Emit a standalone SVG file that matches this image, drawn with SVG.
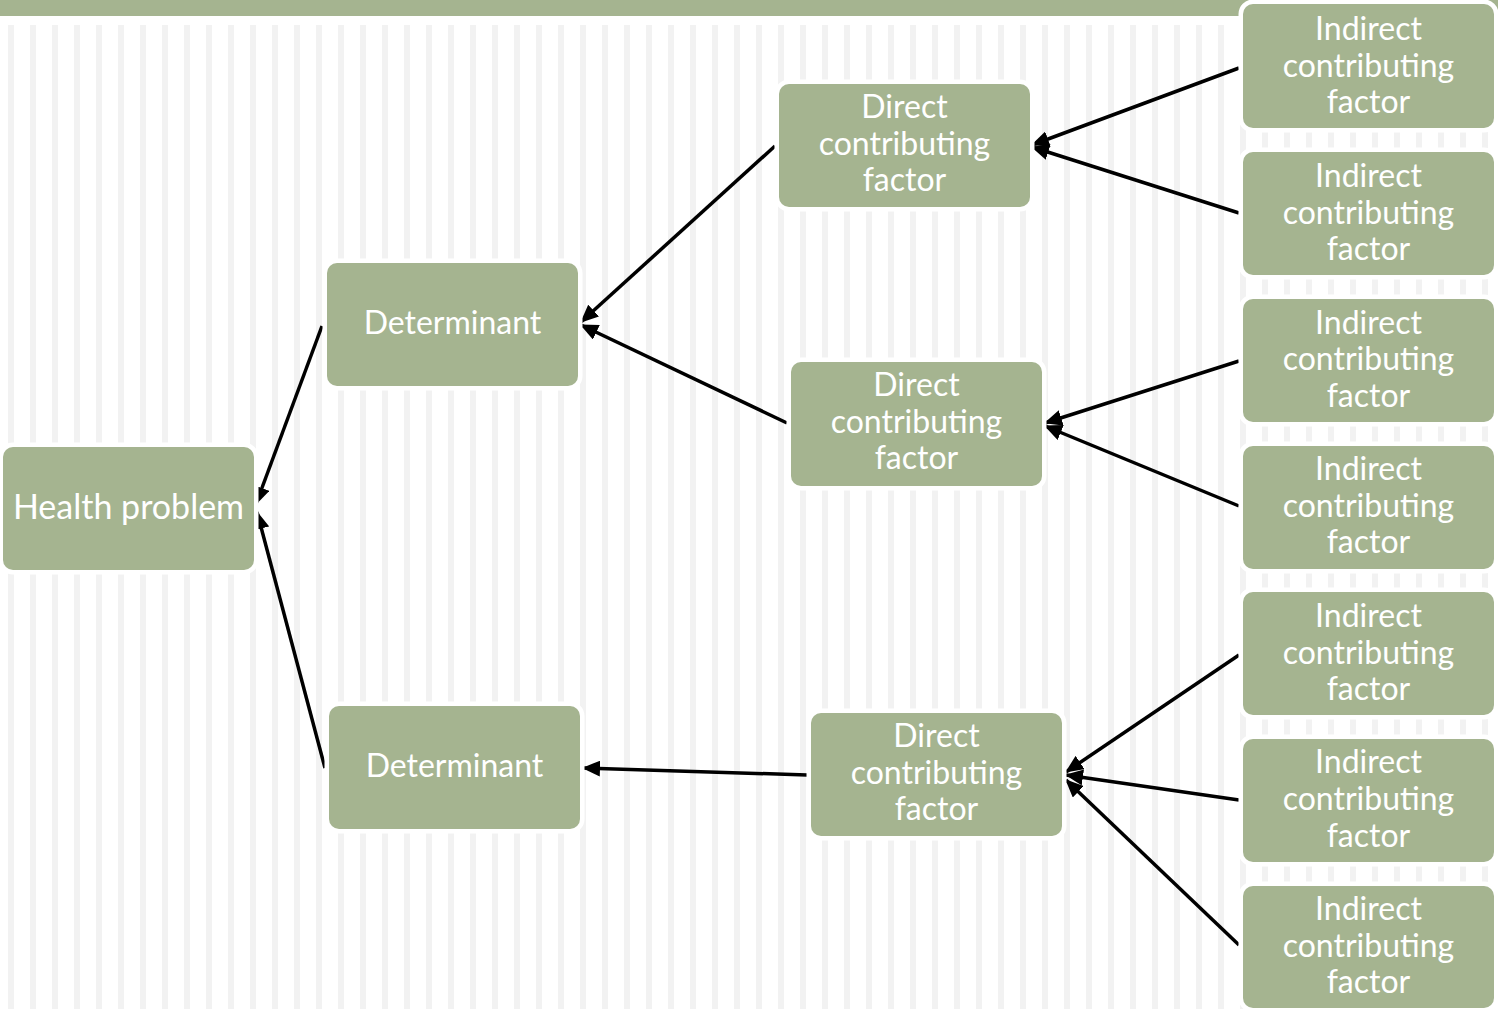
<svg xmlns="http://www.w3.org/2000/svg" width="1498" height="1009" viewBox="0 0 1498 1009">
<defs>
<pattern id="stripes" x="8" y="0" width="22" height="1009" patternUnits="userSpaceOnUse">
<rect x="0" y="0" width="6" height="1009" fill="#f2f2f2"/>
</pattern>
<marker id="ah" viewBox="0 0 18 16" refX="17" refY="8" markerWidth="18" markerHeight="16" markerUnits="userSpaceOnUse" orient="auto">
<path d="M0,0 L18,8 L0,16 Z" fill="#000"/>
</marker>
</defs>
<style>
.node rect{fill:#a5b490;stroke:#ffffff;stroke-width:9;paint-order:stroke;}
.node text{fill:#ffffff;font-family:Lato,"Open Sans",sans-serif;font-size:32px;text-anchor:middle;}
.node text.big{font-size:34px;}
.conn line{stroke:#000;stroke-width:3.5;marker-end:url(#ah);}
</style>
<rect x="0" y="0" width="1498" height="1009" fill="#ffffff"/>
<rect x="0" y="25" width="1498" height="984" fill="url(#stripes)"/>
<rect x="0" y="0" width="1498" height="16" fill="#a5b490"/>

<g id="connectors" class="conn">
<line x1="322" y1="326" x2="256" y2="504"/>
<line x1="325" y1="768" x2="257" y2="512"/>
<line x1="775" y1="146" x2="581" y2="322"/>
<line x1="787" y1="423" x2="581" y2="325"/>
<line x1="807" y1="775" x2="583" y2="768"/>
<line x1="1239" y1="68" x2="1032" y2="145"/>
<line x1="1239" y1="213" x2="1032" y2="147"/>
<line x1="1239" y1="361" x2="1045" y2="423"/>
<line x1="1239" y1="506" x2="1045" y2="426"/>
<line x1="1239" y1="655" x2="1066" y2="772"/>
<line x1="1239" y1="800" x2="1066" y2="775"/>
<line x1="1239" y1="945" x2="1066" y2="780"/>
</g>

<g id="health" class="node">
<rect x="3" y="447" width="251" height="123" rx="10"/>
<text class="big" x="128.5" y="519">Health problem</text>
</g>
<g id="det1" class="node">
<rect x="327" y="263" width="251" height="123" rx="10"/>
<text x="452.5" y="334">Determinant</text>
</g>
<g id="det2" class="node">
<rect x="329" y="706" width="251" height="123" rx="10"/>
<text x="454.5" y="777">Determinant</text>
</g>
<g id="direct1" class="node">
<rect x="779" y="84" width="251" height="123" rx="10"/>
<text x="904.5" y="118">Direct</text>
<text x="904.5" y="155">contributing</text>
<text x="904.5" y="191">factor</text>
</g>
<g id="direct2" class="node">
<rect x="791" y="362" width="251" height="124" rx="10"/>
<text x="916.5" y="396">Direct</text>
<text x="916.5" y="433">contributing</text>
<text x="916.5" y="469">factor</text>
</g>
<g id="direct3" class="node">
<rect x="811" y="713" width="251" height="123" rx="10"/>
<text x="936.5" y="747">Direct</text>
<text x="936.5" y="784">contributing</text>
<text x="936.5" y="820">factor</text>
</g>
<g id="ind1" class="node">
<rect x="1243" y="4" width="251" height="124" rx="10"/>
<text x="1368.5" y="40">Indirect</text>
<text x="1368.5" y="77">contributing</text>
<text x="1368.5" y="113">factor</text>
</g>
<g id="ind2" class="node">
<rect x="1243" y="152" width="251" height="123" rx="10"/>
<text x="1368.5" y="187">Indirect</text>
<text x="1368.5" y="224">contributing</text>
<text x="1368.5" y="260">factor</text>
</g>
<g id="ind3" class="node">
<rect x="1243" y="299" width="251" height="123" rx="10"/>
<text x="1368.5" y="334">Indirect</text>
<text x="1368.5" y="370">contributing</text>
<text x="1368.5" y="407">factor</text>
</g>
<g id="ind4" class="node">
<rect x="1243" y="446" width="251" height="123" rx="10"/>
<text x="1368.5" y="480">Indirect</text>
<text x="1368.5" y="517">contributing</text>
<text x="1368.5" y="553">factor</text>
</g>
<g id="ind5" class="node">
<rect x="1243" y="592" width="251" height="123" rx="10"/>
<text x="1368.5" y="627">Indirect</text>
<text x="1368.5" y="664">contributing</text>
<text x="1368.5" y="700">factor</text>
</g>
<g id="ind6" class="node">
<rect x="1243" y="739" width="251" height="123" rx="10"/>
<text x="1368.5" y="773">Indirect</text>
<text x="1368.5" y="810">contributing</text>
<text x="1368.5" y="847">factor</text>
</g>
<g id="ind7" class="node">
<rect x="1243" y="886" width="251" height="122" rx="10"/>
<text x="1368.5" y="920">Indirect</text>
<text x="1368.5" y="957">contributing</text>
<text x="1368.5" y="993">factor</text>
</g>
</svg>
